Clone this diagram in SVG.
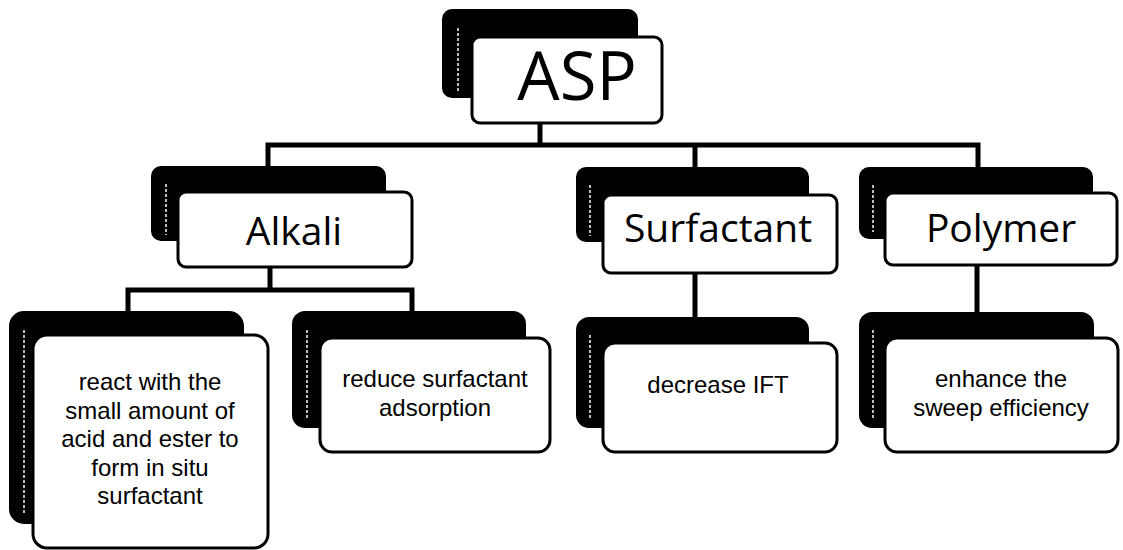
<svg xmlns="http://www.w3.org/2000/svg" width="1123" height="550" viewBox="0 0 1123 550">
<style>
.back{fill:#000;stroke:#000;stroke-width:2}
.hl{stroke:#bbb;stroke-width:2;stroke-dasharray:3 2;fill:none}
.front{fill:#fff;stroke:#000;stroke-width:3}
.conn{fill:none;stroke:#000;stroke-width:5;stroke-linejoin:miter}
text{font-family:"Open Sans","Noto Sans","Liberation Sans",sans-serif;fill:#000;text-anchor:middle}
.big{font-size:67px}
.mid{font-size:39px}
.small{font-family:"Liberation Sans","Arial",sans-serif;font-size:24px}
</style>
<rect width="1123" height="550" fill="#fff"/>
<g id="connectors">
<polyline class="conn" points="540,123 540,145"/>
<polyline class="conn" points="268,167 268,145 978,145 978,168"/>
<polyline class="conn" points="695,145 695,168"/>
<polyline class="conn" points="270,267 270,290"/>
<polyline class="conn" points="128,312 128,290 412,290 412,312"/>
<polyline class="conn" points="695,273 695,318"/>
<polyline class="conn" points="977,265 977,313"/>
</g>
<g id="asp">
<rect class="back" x="443" y="10" width="194" height="87" rx="9"/>
<line class="hl" x1="458" y1="28" x2="458" y2="92"/>
<rect class="front" x="472" y="37" width="190" height="86" rx="8"/>
<text class="big" x="577" y="100">ASP</text>
</g>
<g id="alkali">
<rect class="back" x="152" y="167" width="233" height="73" rx="9"/>
<line class="hl" x1="166" y1="184" x2="166" y2="235"/>
<rect class="front" x="178" y="192" width="234" height="75" rx="8"/>
<text class="mid" x="294" y="245">Alkali</text>
</g>
<g id="surfactant">
<rect class="back" x="577" y="168" width="231" height="73" rx="9"/>
<line class="hl" x1="590" y1="185" x2="590" y2="236"/>
<rect class="front" x="603" y="195" width="234" height="78" rx="8"/>
<text class="mid" x="718" y="242">Surfactant</text>
</g>
<g id="polymer">
<rect class="back" x="860" y="168" width="232" height="70" rx="9"/>
<line class="hl" x1="873" y1="185" x2="873" y2="232"/>
<rect class="front" x="885" y="193" width="232" height="72" rx="8"/>
<text class="mid" x="1001" y="242">Polymer</text>
</g>
<g id="react">
<rect class="back" x="10" y="312" width="233" height="211" rx="14"/>
<line class="hl" x1="24" y1="330" x2="24" y2="515"/>
<rect class="front" x="33" y="335" width="235" height="213" rx="14"/>
<text class="small" x="150" y="390">react with the</text>
<text class="small" x="150" y="418.5">small amount of</text>
<text class="small" x="150" y="447">acid and ester to</text>
<text class="small" x="150" y="475.5">form in situ</text>
<text class="small" x="150" y="504">surfactant</text>
</g>
<g id="reduce">
<rect class="back" x="293" y="312" width="232" height="115" rx="12"/>
<line class="hl" x1="307" y1="330" x2="307" y2="420"/>
<rect class="front" x="320" y="338" width="230" height="114" rx="12"/>
<text class="small" x="435" y="387">reduce surfactant</text>
<text class="small" x="435" y="416">adsorption</text>
</g>
<g id="decrease">
<rect class="back" x="577" y="318" width="231" height="109" rx="12"/>
<line class="hl" x1="590" y1="335" x2="590" y2="420"/>
<rect class="front" x="603" y="343" width="234" height="109" rx="12"/>
<text class="small" x="718" y="393">decrease IFT</text>
</g>
<g id="enhance">
<rect class="back" x="860" y="313" width="233" height="114" rx="12"/>
<line class="hl" x1="873" y1="330" x2="873" y2="420"/>
<rect class="front" x="885" y="338" width="233" height="114" rx="12"/>
<text class="small" x="1001" y="387">enhance the</text>
<text class="small" x="1001" y="415.5">sweep efficiency</text>
</g>
</svg>
